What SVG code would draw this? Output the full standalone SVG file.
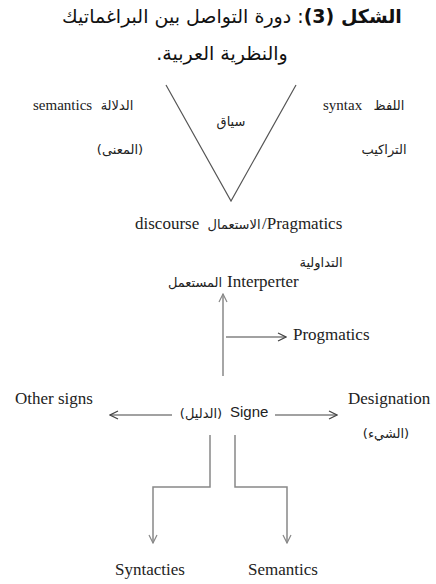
<svg xmlns="http://www.w3.org/2000/svg" width="436" height="584" viewBox="0 0 436 584">
<style>
  .t { font-family: "Liberation Serif", "DejaVu Sans", serif; font-size: 17px; fill: #222; }
  .ts { font-family: "Liberation Serif", "DejaVu Sans", serif; font-size: 15px; fill: #222; }
  .ar { font-family: "DejaVu Sans", "Noto Sans", sans-serif; font-size: 13px; fill: #222; }
  .title { font-family: "DejaVu Sans", "Noto Sans", sans-serif; font-size: 19px; fill: #111; }
  .sans { font-family: "Liberation Sans", Arial, sans-serif; font-size: 15px; fill: #222; }
  .ln { stroke: #555; stroke-width: 1.2; fill: none; }
  .ar2 { stroke: #444; stroke-width: 1.2; fill: none; }
  .gray { stroke: #888; stroke-width: 1.5; fill: none; }
</style>
<defs>
  <marker id="arr" viewBox="0 0 10 10" refX="9" refY="5" markerWidth="10" markerHeight="10" markerUnits="userSpaceOnUse" orient="auto">
    <path d="M1,1 L9,5 L1,9" fill="none" stroke="#444" stroke-width="1.2"/>
  </marker>
  <marker id="arrg" viewBox="0 0 10 10" refX="9" refY="5" markerWidth="10" markerHeight="10" markerUnits="userSpaceOnUse" orient="auto">
    <path d="M1,1 L9,5 L1,9" fill="none" stroke="#888" stroke-width="1.2"/>
  </marker>
</defs>

<g id="title">
  <text class="title" x="232" y="23" text-anchor="middle" direction="rtl"><tspan font-weight="bold">الشكل (3)</tspan>: دورة التواصل بين البراغماتيك</text>
  <text class="title" x="222" y="60" text-anchor="middle" direction="rtl" font-size="21">والنظرية العربية.</text>
</g>

<g id="connectors">
  <path class="ln" d="M166,85 L231,201 L296,85"/>
  <line class="gray" x1="223" y1="376" x2="223" y2="294" marker-end="url(#arrg)"/>
  <line class="ar2" x1="226" y1="337" x2="286" y2="337" marker-end="url(#arr)"/>
  <line class="ar2" x1="172" y1="415" x2="110" y2="415" marker-end="url(#arr)"/>
  <line class="ar2" x1="275" y1="415" x2="337" y2="415" marker-end="url(#arr)"/>
  <path class="gray" d="M210,435 V487 H153 V543" marker-end="url(#arrg)"/>
  <path class="gray" d="M235,435 V487 H287 V543" marker-end="url(#arrg)"/>
</g>

<g id="context">
  <text class="ar" x="231" y="126" text-anchor="middle" direction="rtl">سياق</text>
</g>
<g id="semantics-top">
  <text class="ts" x="33" y="110">semantics</text>
  <text class="ar" x="117" y="110" text-anchor="middle" direction="rtl">الدلالة</text>
  <text class="ar" x="120" y="154" text-anchor="middle" direction="rtl">(المعنى)</text>
</g>
<g id="syntax-top">
  <text class="ts" x="323" y="110">syntax</text>
  <text class="ar" x="389" y="110" text-anchor="middle" direction="rtl">اللفظ</text>
  <text class="ar" x="384" y="154" text-anchor="middle" direction="rtl">التراكيب</text>
</g>
<g id="pragmatics-bottom">
  <text class="t" x="135" y="229">discourse</text>
  <text class="ar" x="234" y="229" text-anchor="middle" direction="rtl">الاستعمال</text>
  <text class="t" x="262" y="229">/Pragmatics</text>
</g>
<g id="interpreter">
  <text class="ar" x="321" y="267" text-anchor="middle" direction="rtl" font-size="12">التداولية</text>
  <text class="t" x="227" y="287">Interperter</text>
  <text class="ar" x="195" y="287" text-anchor="middle" direction="rtl">المستعمل</text>
</g>
<g id="progmatics">
  <text class="t" x="293" y="340">Progmatics</text>
</g>
<g id="other-signs">
  <text class="t" x="15" y="404">Other signs</text>
</g>
<g id="signe">
  <text class="ar" x="201" y="418" text-anchor="middle" direction="rtl">(الدليل)</text>
  <text class="sans" x="230" y="417">Signe</text>
</g>
<g id="designation">
  <text class="t" x="348" y="404">Designation</text>
  <text class="ar" x="386" y="438" text-anchor="middle" direction="rtl">(الشيء)</text>
</g>
<g id="syntacties">
  <text class="t" x="115" y="575">Syntacties</text>
</g>
<g id="semantics-bottom">
  <text class="t" x="248" y="575">Semantics</text>
</g>
</svg>
